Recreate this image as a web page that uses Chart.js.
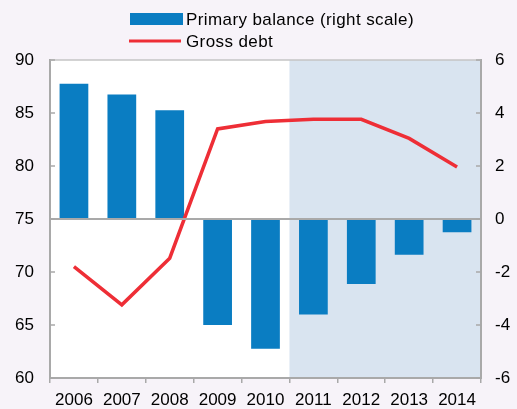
<!DOCTYPE html>
<html>
<head>
<meta charset="utf-8">
<script src="https://cdn.jsdelivr.net/npm/chart.js@4"></script>
<style>
  html, body { margin: 0; padding: 0; background: #f7f3f9; }
  #wrap { width: 517px; height: 409px; position: relative; }
</style>
</head>
<body>
<div id="wrap"><canvas id="chart" width="517" height="409"></canvas></div>
<script>
// Данные графика
const years = ['2006', '2007', '2008', '2009', '2010', '2011', '2012', '2013', '2014'];
const primaryBalance = [5.1, 4.7, 4.1, -4.0, -4.9, -3.6, -2.45, -1.35, -0.5];
const grossDebt = [70.5, 66.9, 71.3, 83.5, 84.2, 84.4, 84.4, 82.6, 79.9];
const projectionStart = 5; // с 2011 года — прогноз

const axisGray = '#a9a9a9';
const font = { family: '"Liberation Sans", Arial, sans-serif', size: 17 };

// Фон, затенение прогноза, нулевая линия и засечки внутрь
const decorPlugin = {
  id: 'decor',
  beforeDraw(chart) {
    const { ctx, chartArea: a, scales } = chart;
    ctx.save();
    ctx.fillStyle = '#ffffff';
    ctx.fillRect(a.left, a.top, a.right - a.left, a.bottom - a.top);
    const step = scales.x.getPixelForValue(1) - scales.x.getPixelForValue(0);
    const x0 = scales.x.getPixelForValue(projectionStart) - step / 2;
    ctx.fillStyle = '#d9e4f0';
    ctx.fillRect(x0, a.top, a.right - x0, a.bottom - a.top);
    ctx.restore();
  },
  afterDatasetsDraw(chart) {
    const { ctx, chartArea: a, scales } = chart;
    ctx.save();
    ctx.strokeStyle = axisGray;
    ctx.lineWidth = 2;
    // нулевая линия
    const y0 = scales.y1.getPixelForValue(0);
    ctx.beginPath();
    ctx.moveTo(a.left, y0);
    ctx.lineTo(a.right, y0);
    ctx.stroke();
    // верхняя граница
    ctx.strokeStyle = '#c4c4c4';
    ctx.lineWidth = 1.5;
    ctx.beginPath();
    ctx.moveTo(a.left, a.top);
    ctx.lineTo(a.right, a.top);
    ctx.stroke();
    // засечки
    ctx.strokeStyle = axisGray;
    ctx.lineWidth = 1.5;
    scales.y.ticks.forEach(t => {
      const y = scales.y.getPixelForValue(t.value);
      ctx.beginPath();
      ctx.moveTo(a.left, y);
      ctx.lineTo(a.left + 5, y);
      ctx.stroke();
    });
    scales.y1.ticks.forEach(t => {
      const y = scales.y1.getPixelForValue(t.value);
      ctx.beginPath();
      ctx.moveTo(a.right - 5, y);
      ctx.lineTo(a.right, y);
      ctx.stroke();
    });
    ctx.restore();
  },
  afterDraw(chart) {
    const { ctx } = chart;
    const bar = chart.data.datasets[1];
    const line = chart.data.datasets[0];
    ctx.save();
    ctx.fillStyle = '#000';
    ctx.textBaseline = 'alphabetic';
    ctx.font = '19px ' + font.family;
    ctx.fillText('(Percent of GDP)', 15, -4);
    ctx.font = '17px ' + font.family;
    ctx.letterSpacing = '0.4px';
    ctx.textBaseline = 'middle';
    ctx.fillStyle = bar.backgroundColor;
    ctx.fillRect(130, 13, 53, 12);
    ctx.strokeStyle = line.borderColor;
    ctx.lineWidth = 3;
    ctx.beginPath();
    ctx.moveTo(129, 41);
    ctx.lineTo(181, 41);
    ctx.stroke();
    ctx.fillStyle = '#000';
    ctx.fillText(bar.label, 186, 20);
    ctx.fillText(line.label, 186, 42);
    ctx.restore();
  }
};

new Chart(document.getElementById('chart').getContext('2d'), {
  data: {
    labels: years,
    datasets: [{
      type: 'line',
      label: 'Gross debt',
      data: grossDebt,
      borderColor: '#ee2e36',
      borderWidth: 3.5,
      pointRadius: 0,
      tension: 0,
      yAxisID: 'y',
      order: 0
    }, {
      type: 'bar',
      label: 'Primary balance (right scale)',
      data: primaryBalance,
      backgroundColor: '#0a7dc2',
      barPercentage: 0.6,
      categoryPercentage: 1,
      yAxisID: 'y1',
      order: 1
    }]
  },
  options: {
    responsive: false,
    animation: false,
    layout: { padding: { top: 60 } },
    plugins: {
      legend: { display: false },
      tooltip: { enabled: false }
    },
    scales: {
      x: {
        offset: true,
        grid: { offset: true, drawOnChartArea: false, color: axisGray, lineWidth: 1.5, tickLength: 5 },
        border: { color: axisGray, width: 2 },
        ticks: { color: '#000', font: font, padding: 7, maxRotation: 0 },
        afterFit: s => { s.height = 31; }
      },
      y: {
        position: 'left',
        min: 60, max: 90,
        ticks: { stepSize: 5, color: '#000', font: font, padding: 16 },
        grid: { display: false, drawTicks: false },
        border: { color: axisGray, width: 2 },
        afterFit: s => { s.width = 50; }
      },
      y1: {
        position: 'right',
        min: -6, max: 6,
        ticks: { stepSize: 2, color: '#000', font: font, padding: 14 },
        grid: { display: false, drawTicks: false },
        border: { color: axisGray, width: 2 },
        afterFit: s => { s.width = 36; }
      }
    }
  },
  plugins: [decorPlugin]
});
</script>
</body>
</html>
